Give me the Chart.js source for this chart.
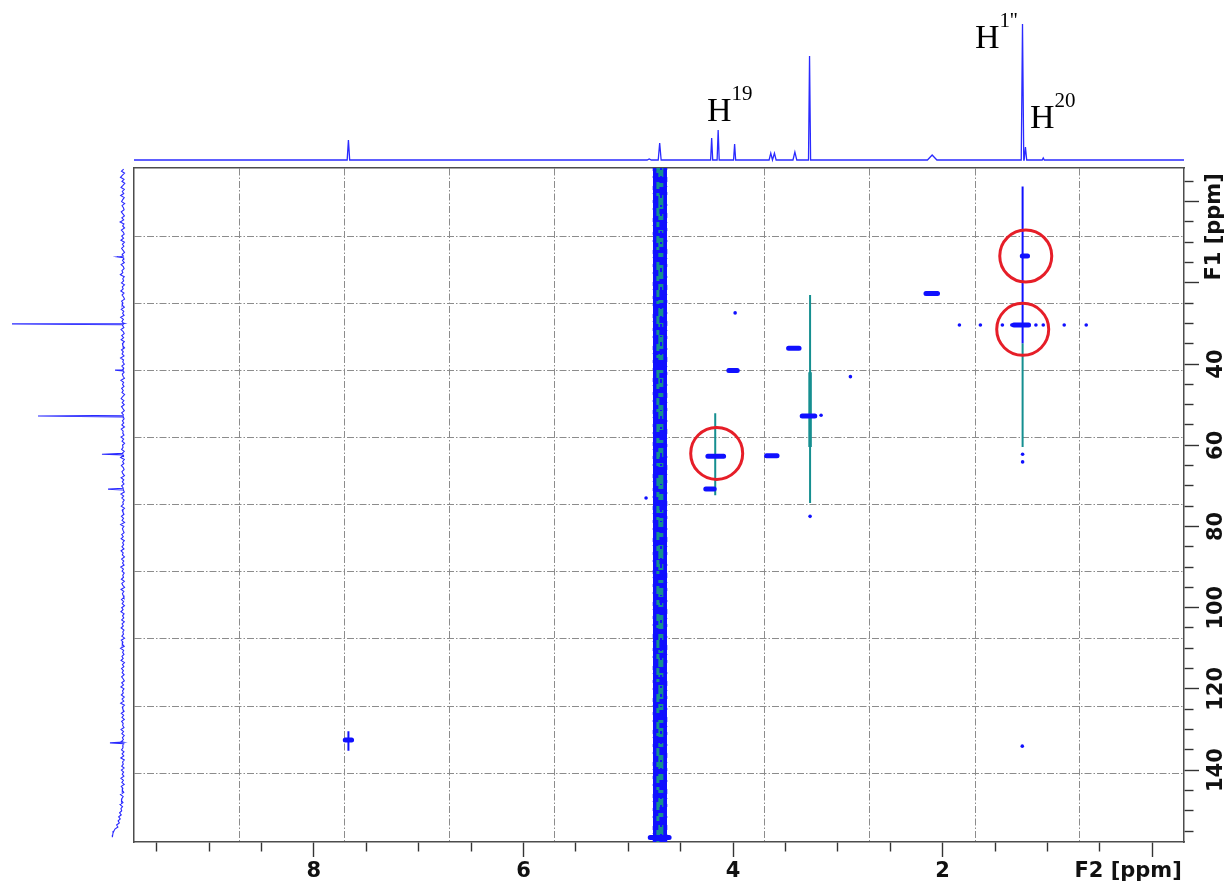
<!DOCTYPE html>
<html>
<head>
<meta charset="utf-8">
<script src="https://cdn.jsdelivr.net/npm/chart.js@4.4.1/dist/chart.umd.min.js"></script>
<style>
  html, body { margin: 0; padding: 0; background: #ffffff; }
  #wrap { position: relative; width: 1232px; height: 885px; overflow: hidden; }
  #wrap canvas { position: absolute; left: 0; top: 0; }
</style>
</head>
<body>
<div id="wrap">
  <canvas id="hsqc" width="1232" height="885"></canvas>
  <canvas id="f2proj" width="1232" height="168"></canvas>
  <canvas id="f1proj" width="134" height="885"></canvas>
</div>
<script>
// ---------- spectral windows (ppm) ----------
const F2_MIN = -0.303, F2_MAX = 9.716;   // 1H
const F1_MIN = -8.28,  F1_MAX = 157.7;   // 13C

// ---------- axis ticks ----------
const f2TickValues = [9.5, 9, 8.5, 8, 7.5, 7, 6.5, 6, 5.5, 5, 4.5, 4, 3.5, 3, 2.5, 2, 1.5, 1, 0.5, 0];
const f2MajorTicks = [8, 6, 4, 2, 0];
const f2TickLabels = ['8', '6', '4', '2', ''];
const f2Title = 'F2 [ppm]';
const f2TitleAt = 0.23;

const f1TickValues = [-5, 0, 5, 10, 15, 20, 25, 30, 35, 40, 45, 50, 55, 60, 65, 70, 75, 80,
                      85, 90, 95, 100, 105, 110, 115, 120, 125, 130, 135, 140, 145, 150, 155];
const f1MajorTicks = [0, 20, 40, 60, 80, 100, 120, 140];
const f1TickLabels = ['', '', '40', '60', '80', '100', '120', '140'];
const f1Title = 'F1 [ppm]';
const f1TitleAt = -7.0;   // upper end of the rotated axis name

// dash-dot grid of the 2D plot
const gridF2 = [8.71, 7.71, 6.71, 5.70, 4.70, 3.70, 2.70, 1.69, 0.69];
const gridF1 = [8.5, 25.0, 41.6, 58.1, 74.6, 91.2, 107.7, 124.3, 140.8];

// ---------- 1H projection (F2) ----------
const f2Peaks      = [7.67, 4.80, 4.70, 4.204, 4.142, 3.985, 3.64, 3.605, 3.41, 3.27, 2.10, 1.238, 1.21, 1.04];
const f2Heights    = [14.7, 0.8, 12.5, 16.2, 22.0, 11.8, 5.0, 5.0, 5.9, 76.5, 3.7, 100, 9.6, 1.5];
const f2HalfWidths = [0.012, 0.02, 0.014, 0.01, 0.01, 0.01, 0.016, 0.016, 0.018, 0.01, 0.045, 0.012, 0.012, 0.01];

// assignment labels above the 1H trace
const hLabelBase = ['H', 'H', 'H'];
const hLabelSup  = ['19', "1''", '20'];
const hLabelF2   = [4.248, 1.691, 1.166];
const hLabelLvl  = [28.7, 82.4, 23.5];

// ---------- 13C projection (F1) ----------
const f1NoiseStart = -8;    // ppm of first baseline sample
const f1NoiseStep = 0.5;    // sample spacing, ppm
const f1Noise = [
  1.2, 3.1, 0.4, 2.2, 4.0, 0.9, 2.7, 0.2, 1.8, 3.5, 0.6, 2.4, 1.1, 3.8, 0.7, 2.0, 3.0, 0.3, 2.6, 1.4,
  0.8, 3.3, 1.9, 0.5, 2.8, 1.2, 4.3, 0.9, 2.1, 0.4, 3.2, 1.6, 0.7, 2.9, 1.3, 3.6, 0.5, 2.3, 1.0, 3.0,
  1.7, 0.4, 2.5, 3.9, 1.1, 2.2, 0.6, 3.4, 1.5, 0.8, 2.7, 1.9, 4.1, 0.7, 2.0, 1.2, 3.1, 0.5, 2.4, 1.6,
  3.7, 0.9, 2.6, 1.3, 0.4, 3.0, 1.8, 2.5, 0.6, 3.3, 1.1, 2.1, 0.8, 3.8, 1.4, 2.7, 0.5, 2.2, 1.0, 3.5,
  1.6, 0.7, 2.9, 1.2, 3.4, 0.6, 2.3, 1.9, 0.4, 3.1, 1.5, 2.6, 0.9, 3.9, 1.3, 2.0, 0.6, 2.8, 1.1, 3.2,
  0.8, 2.4, 1.7, 0.5, 3.6, 1.2, 2.2, 0.9, 3.0, 1.5, 2.7, 0.4, 2.1, 3.4, 1.0, 2.5, 0.7, 3.1, 1.8, 0.6,
  2.9, 1.4, 3.7, 0.8, 2.3, 1.1, 2.8, 0.5, 3.3, 1.6, 2.0, 0.9, 3.5, 1.2, 2.6, 0.4, 2.2, 1.7, 3.0, 0.7,
  2.5, 1.3, 3.9, 0.6, 2.1, 1.0, 3.2, 1.5, 0.8, 2.7, 1.9, 0.5, 3.4, 1.1, 2.4, 0.9, 3.0, 1.6, 2.2, 0.6,
  3.6, 1.2, 2.8, 0.7, 2.0, 1.4, 3.3, 0.5, 2.5, 1.8, 0.9, 3.1, 1.3, 2.6, 0.4, 3.8, 1.0, 2.3, 1.7, 0.8,
  2.9, 1.5, 3.4, 0.6, 2.1, 1.2, 2.7, 0.9, 3.5, 1.6, 2.4, 0.5, 3.0, 1.1, 2.2, 0.8, 3.7, 1.4, 2.6, 0.7,
  2.0, 1.3, 3.2, 0.6, 2.8, 1.9, 0.4, 3.5, 1.0, 2.3, 1.6, 0.9, 3.1, 1.2, 2.5, 0.5, 2.9, 1.7, 3.6, 0.8,
  2.2, 1.1, 3.0, 0.6, 2.6, 1.5, 3.4, 0.9, 2.0, 1.3, 2.8, 0.4, 3.3, 1.8, 2.4, 0.7, 3.9, 1.2, 2.1, 0.9,
  2.7, 1.6, 3.5, 0.5, 2.3, 1.0, 3.1, 1.4, 2.5, 0.8, 3.0, 1.7, 0.6, 2.9, 1.3, 3.6, 0.9, 2.2, 1.5, 3.2,
  0.7, 2.6, 1.1, 3.8, 0.5, 2.4, 1.9, 0.8, 3.3, 1.2, 2.7, 0.6, 3.0, 1.6, 2.1, 0.9, 3.5, 1.3, 2.8, 0.7,
  2.3, 1.4, 3.4, 0.5, 2.0, 1.8, 3.1, 0.9, 2.6, 1.1, 3.7, 0.6, 2.2, 1.5, 2.9, 0.8, 3.2, 1.2, 2.5, 1.0,
  3.6, 1.4, 2.8, 0.7, 3.3, 1.9, 2.4, 1.1, 4.0, 1.6, 2.7, 3.1, 1.8, 4.4, 2.2, 3.6, 2.9, 4.8, 3.3, 5.6,
  4.2, 6.1, 5.0, 7.4, 6.3, 8.9, 9.8, 10.6, 10.9, 11.2
];
const f1Peaks   = [13.6, 30.1, 41.5, 52.8, 62.2, 70.8, 133.3];
const f1Heights = [7.0, 100, 8.8, 77.0, 20.4, 15.0, 13.3];

// ---------- 2D correlations ----------
// contour blobs: F2 centre, F1, F2 half-extent
const xpkF2   = [4.165, 3.63, 4.22, 3.42, 3.28, 4.00, 2.104, 1.25, 1.215, 7.67, 4.70];
const xpkF1   = [62.7, 62.6, 70.8, 36.1, 52.8, 41.6, 22.6, 30.4, 13.4, 132.6, 156.6];
const xpkSpan = [0.075, 0.05, 0.04, 0.05, 0.06, 0.04, 0.055, 0.07, 0.025, 0.03, 0.09];

// isolated weak contour points
const dotF2 = [4.83, 2.88, 3.16, 1.24, 3.98, 1.84, 1.64, 1.43, 1.34, 1.11, 1.04, 0.84, 0.63, 1.237, 1.237, 3.265];
const dotF1 = [73.0, 43.1, 52.6, 134.1, 27.4, 30.4, 30.4, 30.4, 30.4, 30.4, 30.4, 30.4, 30.4, 62.2, 64.1, 77.5];

// t1-noise ridges along F1
const ridgeBlueF2 = [1.237, 7.67];
const ridgeBlueA  = [-3.7, 130.4];
const ridgeBlueB  = [34.9, 135.2];
const ridgeTealF2 = [1.237, 3.265, 4.17];
const ridgeTealA  = [34.9, 23.0, 52.1];
const ridgeTealB  = [60.4, 74.2, 72.3];
const ridgeBoldF2 = [3.265];
const ridgeBoldA  = [42.0];
const ridgeBoldB  = [60.4];

// residual solvent (HDO) band
const waterF2 = 4.697;

// highlighted correlations
const markF2 = [4.156, 1.207, 1.236];
const markF1 = [62.0, 13.4, 31.45];

// ---------- colours ----------
const BLUE = '#1010ff';
const TEAL = '#158f90';
const RED  = '#e61e28';
const SPEC = '#2a2aff';
const FRAME = '#4d4d4d';
const TICK_FONT = { family: 'DejaVu Sans', weight: 'bold', size: 21 };

// ---------- helpers ----------
function segments(xs, ys, span) {
  const out = [];
  xs.forEach((x, i) => {
    out.push({ x: x + span[i], y: ys[i] }, { x: x - span[i], y: ys[i] }, { x: null, y: null });
  });
  return out;
}
function ridges(xs, a, b) {
  const out = [];
  xs.forEach((x, i) => { out.push({ x: x, y: a[i] }, { x: x, y: b[i] }, { x: null, y: null }); });
  return out;
}
function points(xs, ys) { return xs.map((x, i) => ({ x: x, y: ys[i] })); }
function vline(x) { return [{ x: x, y: F1_MIN }, { x: x, y: F1_MAX }]; }
function line(data, color, width, extra) {
  return Object.assign({ data: data, showLine: true, borderColor: color, borderWidth: width,
    pointRadius: 0, spanGaps: false, fill: false }, extra || {});
}

// ---------- 2D HSQC map ----------
new Chart(document.getElementById('hsqc'), {
  type: 'scatter',
  data: {
    datasets: [
      line(vline(waterF2), BLUE, 14, { order: 30 }),
      line(vline(waterF2 + 0.055), BLUE, 3, { order: 29, borderDash: [3, 5, 2, 8, 4, 3, 1, 6] }),
      line(vline(waterF2 - 0.055), BLUE, 3, { order: 29, borderDash: [2, 7, 5, 4, 1, 5, 3, 9] }),
      line(vline(waterF2 - 0.008), TEAL, 5, { order: 28, borderDash: [9, 6, 4, 8, 14, 5, 6, 10, 3, 5] }),
      line(vline(waterF2 + 0.02), TEAL, 3, { order: 27, borderDash: [5, 9, 7, 4, 3, 12, 8, 6] }),
      line(vline(waterF2 - 0.01), BLUE, 2, { order: 26, borderDash: [2, 6, 3, 9, 1, 5, 4, 7] }),
      line(ridges(ridgeTealF2, ridgeTealA, ridgeTealB), TEAL, 2, { order: 20 }),
      line(ridges(ridgeBoldF2, ridgeBoldA, ridgeBoldB), TEAL, 3.5, { order: 19 }),
      line(ridges(ridgeBlueF2, ridgeBlueA, ridgeBlueB), BLUE, 2, { order: 18 }),
      line(segments(xpkF2, xpkF1, xpkSpan), BLUE, 5, { order: 10, borderCapStyle: 'round' }),
      { data: points(dotF2, dotF1), pointRadius: 1.8, pointBorderWidth: 0,
        backgroundColor: BLUE, borderColor: BLUE, order: 9 },
      { data: points(markF2, markF1), pointRadius: 26, pointBorderWidth: 3,
        borderColor: RED, backgroundColor: 'rgba(0,0,0,0)', order: 1 }
    ]
  },
  options: {
    responsive: false,
    animation: false,
    devicePixelRatio: 1,
    events: [],
    layout: { autoPadding: false, padding: { left: 134, top: 168, right: 0, bottom: 0 } },
    plugins: { legend: { display: false }, tooltip: { enabled: false } },
    scales: {
      x: {
        type: 'linear', position: 'bottom', reverse: true, min: F2_MIN, max: F2_MAX,
        afterBuildTicks: s => { s.ticks = f2TickValues.concat([f2TitleAt]).map(v => ({ value: v })); },
        afterFit: s => { s.height = 43; },
        ticks: {
          autoSkip: false, maxRotation: 0, minRotation: 0, padding: 2, color: '#111', font: TICK_FONT,
          callback: v => {
            if (v === f2TitleAt) return f2Title;
            const k = f2MajorTicks.indexOf(v);
            return k < 0 ? '' : f2TickLabels[k];
          }
        },
        grid: {
          drawOnChartArea: false, tickLength: 15, tickWidth: 1.4,
          tickColor: c => (c.tick && c.tick.value === f2TitleAt) ? 'rgba(0,0,0,0)' : '#333',
          tickBorderDash: c => (c.tick && f2MajorTicks.includes(c.tick.value)) ? [] : [9, 40]
        },
        border: { display: true, color: FRAME, width: 1.5 }
      },
      y: {
        type: 'linear', position: 'right', weight: 0, reverse: true, min: F1_MIN, max: F1_MAX,
        afterBuildTicks: s => { s.ticks = f1TickValues.map(v => ({ value: v })); },
        afterFit: s => { s.width = 48; },
        ticks: {
          autoSkip: false, minRotation: 90, maxRotation: 90, crossAlign: 'center', padding: -4,
          color: '#111', font: TICK_FONT,
          callback: v => { const k = f1MajorTicks.indexOf(v); return k < 0 ? '' : f1TickLabels[k]; }
        },
        grid: {
          drawOnChartArea: false, tickLength: 15, tickWidth: 1.4, tickColor: '#333',
          tickBorderDash: c => (c.tick && f1MajorTicks.includes(c.tick.value)) ? [] : [9, 40]
        },
        border: { display: true, color: FRAME, width: 1.5 }
      },
      f1name: {
        type: 'linear', position: 'right', weight: 5, reverse: true, min: F1_MIN, max: F1_MAX,
        afterBuildTicks: s => { s.ticks = [{ value: f1TitleAt }]; },
        afterFit: s => { s.width = 0; },
        ticks: {
          autoSkip: false, mirror: true, minRotation: 90, maxRotation: 90, crossAlign: 'near', padding: -17,
          color: '#111', font: TICK_FONT, callback: () => f1Title
        },
        grid: { display: false, drawTicks: false },
        border: { display: false }
      },
      gx: {
        type: 'linear', position: 'top', reverse: true, min: F2_MIN, max: F2_MAX,
        afterBuildTicks: s => { s.ticks = gridF2.map(v => ({ value: v })); },
        afterFit: s => { s.height = 0; },
        ticks: { display: false },
        grid: { drawOnChartArea: true, drawTicks: false, color: '#8c8c8c', lineWidth: 1 },
        border: { display: true, color: FRAME, width: 1.5, dash: [7, 2, 1.5, 2] }
      },
      gy: {
        type: 'linear', position: 'left', reverse: true, min: F1_MIN, max: F1_MAX,
        afterBuildTicks: s => { s.ticks = gridF1.map(v => ({ value: v })); },
        afterFit: s => { s.width = 0; },
        ticks: { display: false },
        grid: { drawOnChartArea: true, drawTicks: false, color: '#8c8c8c', lineWidth: 1 },
        border: { display: true, color: FRAME, width: 1.5, dash: [7, 2, 1.5, 2] }
      }
    }
  }
});

// ---------- 1H projection on top ----------
const f2Trace = [{ x: F2_MAX, y: 0 }];
f2Peaks.forEach((p, i) => {
  const w = f2HalfWidths[i];
  f2Trace.push({ x: p + w, y: 0 }, { x: p, y: f2Heights[i] }, { x: p - w, y: 0 });
});
f2Trace.push({ x: F2_MIN, y: 0 });

const assignLabels = {
  id: 'assignLabels',
  afterDatasetsDraw(chart) {
    const { ctx, scales: { x, y } } = chart;
    ctx.save();
    ctx.fillStyle = '#000';
    ctx.textBaseline = 'alphabetic';
    ctx.textAlign = 'left';
    hLabelBase.forEach((b, i) => {
      const px = x.getPixelForValue(hLabelF2[i]);
      const py = y.getPixelForValue(hLabelLvl[i]);
      ctx.font = '34px "Liberation Serif"';
      ctx.fillText(b, px, py);
      const w = ctx.measureText(b).width;
      ctx.font = '21px "Liberation Serif"';
      ctx.fillText(hLabelSup[i], px + w, py - 21);
    });
    ctx.restore();
  }
};

new Chart(document.getElementById('f2proj'), {
  type: 'scatter',
  data: { datasets: [line(f2Trace, SPEC, 1.3, { clip: false })] },
  options: {
    responsive: false, animation: false, devicePixelRatio: 1, events: [],
    layout: { autoPadding: false, padding: { left: 134, right: 48, top: 24, bottom: 8 } },
    plugins: { legend: { display: false }, tooltip: { enabled: false } },
    scales: {
      x: { type: 'linear', display: false, reverse: true, min: F2_MIN, max: F2_MAX },
      y: { type: 'linear', display: false, min: 0, max: 100 }
    }
  },
  plugins: [assignLabels]
});

// ---------- 13C projection on the left ----------
const f1Trace = f1Noise.map((v, i) => ({ x: v, y: f1NoiseStart + i * f1NoiseStep }));
f1Peaks.forEach((p, i) => {
  f1Trace.push({ x: 1.5, y: p - 0.2 }, { x: f1Heights[i], y: p }, { x: 1.5, y: p + 0.2 });
});
f1Trace.sort((a, b) => a.y - b.y);

new Chart(document.getElementById('f1proj'), {
  type: 'scatter',
  data: { datasets: [line(f1Trace, SPEC, 1.1, { clip: false })] },
  options: {
    responsive: false, animation: false, devicePixelRatio: 1, events: [],
    layout: { autoPadding: false, padding: { left: 12, right: 9, top: 168, bottom: 43 } },
    plugins: { legend: { display: false }, tooltip: { enabled: false } },
    scales: {
      x: { type: 'linear', display: false, reverse: true, min: 0, max: 100 },
      y: { type: 'linear', display: false, reverse: true, min: F1_MIN, max: F1_MAX }
    }
  }
});
</script>
</body>
</html>
